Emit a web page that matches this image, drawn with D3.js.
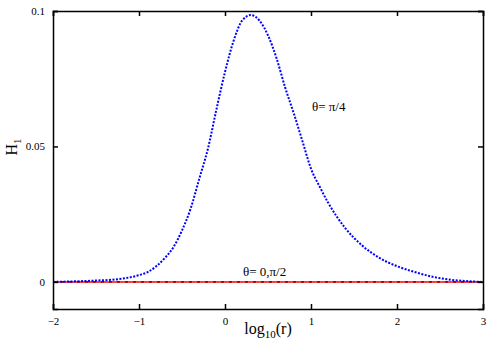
<!DOCTYPE html>
<html>
<head>
<meta charset="utf-8">
<script src="https://cdn.jsdelivr.net/npm/d3@7"></script>
<style>
  body { margin: 0; background: #fff; }
  svg text { font-family: "Liberation Serif", serif; }
</style>
</head>
<body>
<svg width="500" height="350"></svg>
<script>
// log10(r) values
const logR = [-2, -1.75, -1.5, -1.25, -1, -0.9, -0.8, -0.7, -0.6, -0.5, -0.4, -0.3, -0.2, -0.1,
  0, 0.1, 0.2, 0.3, 0.4, 0.5, 0.6, 0.7, 0.8, 0.9, 1.0, 1.1, 1.2, 1.4, 1.6, 1.8, 2.0, 2.2, 2.4, 2.6, 2.8, 3.0];
// H1 at theta = pi/4
const hQuarter = [0.0000, 0.0002, 0.0005, 0.0010, 0.0025, 0.0036, 0.0058, 0.0088, 0.0128, 0.019, 0.027, 0.038, 0.049, 0.0636,
  0.0775, 0.089, 0.0965, 0.0985, 0.0965, 0.091, 0.0825, 0.0717, 0.0622, 0.052, 0.0418, 0.0352, 0.0292, 0.0198, 0.0133, 0.0088,
  0.0058, 0.0037, 0.0020, 0.0009, 0.0003, 0.0000];
// H1 at theta = 0 and pi/2 (zero everywhere)
const hZero = [0, 0];
const zeroX = [-2, 3];

const xTicks = [-2, -1, 0, 1, 2, 3];
const yTicks = [0, 0.05, 0.1];

const svg = d3.select('svg');
const mLeft = 53, mRight = 483, mTop = 11, mBottom = 309;

const x = d3.scaleLinear().domain([-2, 3]).range([mLeft, mRight]);
const y = d3.scaleLinear().domain([-0.01, 0.1]).range([mBottom, mTop]);

// zero curves: red solid + black dash-dot
const zeroLine = d3.line().x((d, i) => x(zeroX[i])).y(d => y(d));
svg.append('path').datum(hZero)
  .attr('d', zeroLine)
  .attr('fill', 'none').attr('stroke', '#ff0000').attr('stroke-width', 1.5);
svg.append('path').datum(hZero)
  .attr('d', zeroLine)
  .attr('fill', 'none').attr('stroke', '#000').attr('stroke-width', 1)
  .attr('stroke-dasharray', '3,5');

// pi/4 curve, dotted blue
const curve = d3.line()
  .x((d, i) => x(logR[i]))
  .y(d => y(d))
  .curve(d3.curveMonotoneX);
svg.append('path').datum(hQuarter)
  .attr('d', curve)
  .attr('fill', 'none').attr('stroke', '#0000ff').attr('stroke-width', 2)
  .attr('stroke-dasharray', '2,1.5');

// axes: ticks inward on all four sides
const axB = svg.append('g').attr('transform', `translate(0,${mBottom})`)
  .call(d3.axisBottom(x).tickValues(xTicks).tickSize(-5).tickPadding(8).tickFormat(d3.format('d')));
const axT = svg.append('g').attr('transform', `translate(0,${mTop})`)
  .call(d3.axisTop(x).tickValues(xTicks).tickSize(-5).tickFormat(''));
const axL = svg.append('g').attr('transform', `translate(${mLeft},0)`)
  .call(d3.axisLeft(y).tickValues(yTicks).tickSize(-5).tickPadding(8).tickFormat(d => d === 0 ? '0' : d3.format('')(d)));
const axR = svg.append('g').attr('transform', `translate(${mRight},0)`)
  .call(d3.axisRight(y).tickValues(yTicks).tickSize(-5).tickFormat(''));

[axB, axT, axL, axR].forEach(g => {
  g.select('.domain').attr('stroke', '#000').attr('stroke-width', 1.5);
  g.selectAll('.tick line').attr('stroke', '#000').attr('stroke-width', 1.5);
  g.selectAll('.tick text').attr('font-family', 'Liberation Sans, sans-serif').attr('font-size', 11).attr('fill', '#000');
});

// x label
const xl = svg.append('text').attr('x', 268).attr('y', 334).attr('text-anchor', 'middle')
  .attr('font-size', 16);
xl.append('tspan').text('log');
xl.append('tspan').attr('font-size', 11).attr('dy', 4).text('10');
xl.append('tspan').attr('dy', -4).text('(r)');

// y label
const yl = svg.append('text').attr('transform', 'translate(17,147) rotate(-90)')
  .attr('text-anchor', 'middle').attr('font-size', 16);
yl.append('tspan').text('H');
yl.append('tspan').attr('font-size', 11).attr('dy', 4).text('1');

// annotations
svg.append('text').attr('x', 312).attr('y', 111).attr('font-size', 13).text('θ= π/4');
svg.append('text').attr('x', 243).attr('y', 276).attr('font-size', 13).text('θ= 0,π/2');
</script>
</body>
</html>
